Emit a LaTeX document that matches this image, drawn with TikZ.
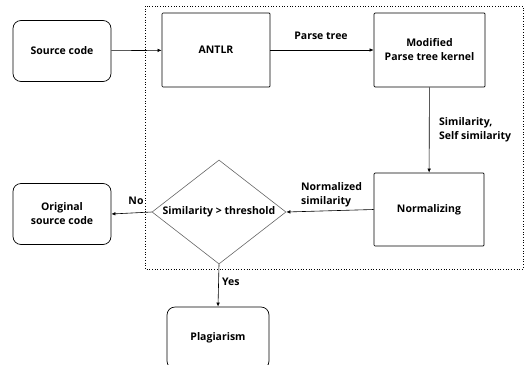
\documentclass[tikz,border=0pt]{standalone}
\usepackage{fontspec}
\setmainfont{Open Sans}
\usetikzlibrary{arrows.meta,shapes.geometric}
\begin{document}
\begin{tikzpicture}[x=1pt,y=-1pt,
  every node/.style={font=\fontsize{10.5}{14}\selectfont\bfseries},
  rbox/.style={draw, rounded corners=8pt, line width=0.7pt, minimum width=98pt, minimum height=61pt, align=center},
  sbox/.style={draw, rounded corners=1pt, line width=0.7pt, align=center},
  conn/.style={line width=0.6pt, -{Latex[length=4pt,width=3.5pt]}},
  lbl/.style={inner sep=1pt, align=left}]
\useasboundingbox (0,0) rectangle (526,364);
\draw[dotted, line width=0.7pt] (145,6) rectangle (523,269);
\node[rbox] (src) at (62,51) {Source code};
\node[sbox, minimum width=108pt, minimum height=74pt] (antlr) at (216,50) {ANTLR};
\node[sbox, minimum width=111pt, minimum height=74pt] (mod) at (429.5,50) {Modified\\Parse tree kernel};
\node[sbox, minimum width=110pt, minimum height=73pt] (norm) at (429,209.5) {Normalizing};
\node[draw=black!60, line width=0.6pt, shape=diamond, inner sep=0pt, minimum width=134pt, minimum height=104pt] (dia) at (219,212) {};
\node[inner sep=0pt] (dialbl) at (dia.center) {Similarity > threshold};
\node[rbox] (orig) at (62,214) {Original\\source code};
\node[rbox, minimum width=102pt, minimum height=62pt] (plag) at (218,338) {Plagiarism};
\draw[conn] (src) -- (antlr);
\draw[conn] (antlr) -- (mod);
\node[lbl] (lparse) at (321,36) {Parse tree};
\draw[conn] (mod) -- (norm);
\node[lbl, anchor=west] (lsim) at (438,130) {Similarity,\\Self similarity};
\draw[conn] (norm.west) -- (dia.east);
\node[lbl, anchor=west] (lnorm) at (300,195) {Normalized\\similarity};
\draw[conn] (dia.west) -- (orig.east);
\node[lbl] (lno) at (136,201) {No};
\draw[conn] (dia.south) -- (plag.north);
\node[lbl, anchor=west] (lyes) at (221,282) {Yes};
\end{tikzpicture}
\end{document}
